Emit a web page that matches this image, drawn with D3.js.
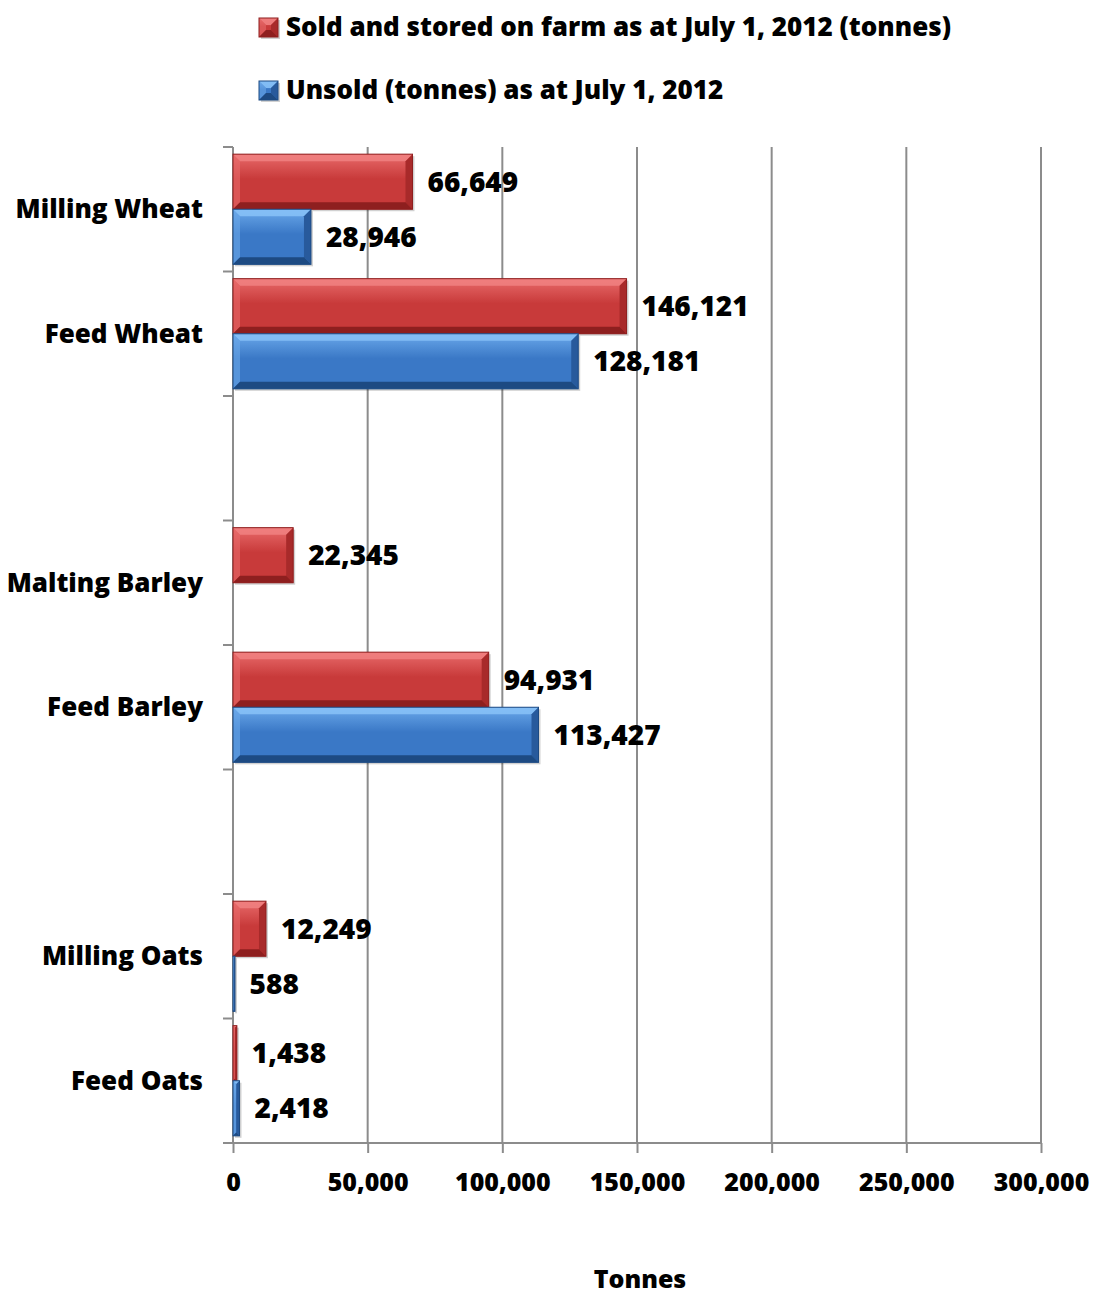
<!DOCTYPE html>
<html lang="en">
<head>
<meta charset="UTF-8">
<title>Grain stocks on farm</title>
<script src="https://d3js.org/d3.v7.min.js"></script>
<style>
  body { margin: 0; background: #fff; }
  text { font-family: "Open Sans", Lato, sans-serif; font-weight: 800; fill: #000; }
</style>
</head>
<body>
<script>
    // data
    var categories = ["Milling Wheat", "Feed Wheat", "", "Malting Barley", "Feed Barley", "", "Milling Oats", "Feed Oats"];
    var sold = [66649, 146121, null, 22345, 94931, null, 12249, 1438];
    var unsold = [28946, 128181, null, null, 113427, null, 588, 2418];
    var seriesNames = ["Sold and stored on farm as at July 1, 2012 (tonnes)", "Unsold (tonnes) as at July 1, 2012"];
    var xTicks = [0, 50000, 100000, 150000, 200000, 250000, 300000];

    var W = 1103, H = 1295;
    var margin = {top: 147, right: 62, bottom: 152, left: 233};
    var width = W - margin.left - margin.right,
        height = H - margin.top - margin.bottom;

    var colors = [
        {face: "#c83a3a", light: "#e86a6a", top: "#f08080", dark: "#8e1f1f", edge: "#a82a2a"},
        {face: "#3a78c6", light: "#6aa8ea", top: "#86c0f6", dark: "#1d4a82", edge: "#285a9c"}
    ];

    var svg = d3.select("body").append("svg")
        .attr("width", W)
        .attr("height", H);

    var g = svg.append("g")
        .attr("transform", "translate(" + margin.left + "," + margin.top + ")");

    var x = d3.scaleLinear().domain([0, 300000]).range([0, width]);
    var y0 = d3.scaleBand().domain(d3.range(categories.length)).range([0, height]);
    var y1 = d3.scaleBand().domain([0, 1]).range([0, y0.bandwidth()]).paddingOuter(0.13);

    // gradients for bar faces
    var defs = svg.append("defs");
    colors.forEach(function(c, i) {
        var lg = defs.append("linearGradient")
            .attr("id", "face" + i)
            .attr("x1", "0%").attr("y1", "0%")
            .attr("x2", "0%").attr("y2", "100%");
        lg.append("stop").attr("offset", "0%").attr("stop-color", c.light);
        lg.append("stop").attr("offset", "45%").attr("stop-color", c.face);
        lg.append("stop").attr("offset", "100%").attr("stop-color", c.face);
    });

    // gridlines
    g.selectAll(".grid")
        .data(xTicks.slice(1))
        .enter().append("line")
        .attr("x1", function(d) { return x(d); })
        .attr("x2", function(d) { return x(d); })
        .attr("y1", 0)
        .attr("y2", height)
        .attr("stroke", "#8c8c8c")
        .attr("stroke-width", 2);

    // x axis
    var xAxis = g.append("g")
        .attr("transform", "translate(0," + height + ")")
        .call(d3.axisBottom(x).tickValues(xTicks).tickSize(10).tickPadding(20)
            .tickFormat(d3.format(",")));
    xAxis.select(".domain").attr("stroke", "#8c8c8c").attr("stroke-width", 2)
        .attr("d", "M-10,0H" + width);
    xAxis.selectAll(".tick line").attr("stroke", "#8c8c8c").attr("stroke-width", 2);
    xAxis.selectAll(".tick text")
        .style("font-size", "25px")
        .style("font-family", "'Open Sans', sans-serif")
        .style("font-weight", "800")
        .attr("fill", "#000");

    // y axis
    var yAxisG = g.append("g");
    yAxisG.append("line")
        .attr("x1", 0).attr("x2", 0)
        .attr("y1", 0).attr("y2", height)
        .attr("stroke", "#8c8c8c").attr("stroke-width", 2);
    yAxisG.selectAll(".ytick")
        .data(d3.range(categories.length + 1))
        .enter().append("line")
        .attr("x1", -10).attr("x2", 0)
        .attr("y1", function(d) { return d * y0.step(); })
        .attr("y2", function(d) { return d * y0.step(); })
        .attr("stroke", "#8c8c8c").attr("stroke-width", 2);
    yAxisG.selectAll(".ylabel")
        .data(categories)
        .enter().append("text")
        .attr("x", -30)
        .attr("y", function(d, i) { return y0(i) + y0.bandwidth() / 2; })
        .attr("dy", "0.35em")
        .attr("text-anchor", "end")
        .style("font-size", "26px")
        .text(function(d) { return d; });

    // bevelled bar
    function bevelBar(sel, bx, by, bw, bh, c, i) {
        var b = Math.min(7, bw / 2, bh / 2);
        var grp = sel.append("g");
        grp.append("rect")
            .attr("x", bx + 2).attr("y", by + 2)
            .attr("width", bw).attr("height", bh)
            .attr("fill", "rgba(0,0,0,0.18)");
        grp.append("rect")
            .attr("x", bx).attr("y", by)
            .attr("width", bw).attr("height", bh)
            .attr("fill", "url(#face" + i + ")");
        var x2 = bx + bw, y2 = by + bh;
        grp.append("polygon")
            .attr("points", [[bx, by], [x2, by], [x2 - b, by + b], [bx + b, by + b]].join(" "))
            .attr("fill", c.top).attr("opacity", 0.9);
        grp.append("polygon")
            .attr("points", [[bx, by], [bx + b, by + b], [bx + b, y2 - b], [bx, y2]].join(" "))
            .attr("fill", c.light).attr("opacity", 0.6);
        grp.append("polygon")
            .attr("points", [[x2, by], [x2, y2], [x2 - b, y2 - b], [x2 - b, by + b]].join(" "))
            .attr("fill", c.edge);
        grp.append("polygon")
            .attr("points", [[bx, y2], [x2, y2], [x2 - b, y2 - b], [bx + b, y2 - b]].join(" "))
            .attr("fill", c.dark);
        grp.append("rect")
            .attr("x", bx).attr("y", by)
            .attr("width", bw).attr("height", bh)
            .attr("fill", "none")
            .attr("stroke", c.dark).attr("stroke-width", 1);
    }

    var bars = g.append("g");
    [sold, unsold].forEach(function(series, si) {
        series.forEach(function(v, ci) {
            if (v === null) return;
            var by = y0(ci) + y1(si);
            var bw = Math.max(x(v) - x(0), 2);
            bevelBar(bars, x(0), by, bw, y1.bandwidth(), colors[si], si);
            bars.append("text")
                .attr("x", x(v) + 15)
                .attr("y", by + y1.bandwidth() / 2)
                .attr("dy", "0.35em")
                .style("font-size", "28px")
                .text(d3.format(",")(v));
        });
    });

    // axis title
    svg.append("text")
        .attr("x", 640)
        .attr("y", 1288)
        .attr("text-anchor", "middle")
        .style("font-size", "25px")
        .text("Tonnes");

    // legend
    var legend = svg.append("g");
    seriesNames.forEach(function(name, i) {
        var ly = 18 + i * 63;
        bevelBar(legend, 259, ly, 19, 19, colors[i], i);
        legend.append("text")
            .attr("x", 286)
            .attr("y", ly + 18)
            .style("font-size", "26px")
            .text(name);
    });
</script>
</body>
</html>
